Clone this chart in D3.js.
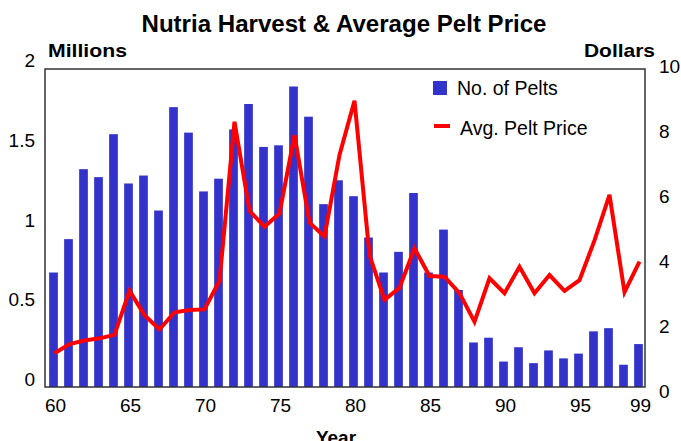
<!DOCTYPE html>
<html>
<head>
<meta charset="utf-8">
<script src="https://cdn.jsdelivr.net/npm/d3@7"></script>
<style>
  body { margin: 0; background: #fff; }
  svg { font-family: "Liberation Sans", Arial, sans-serif; }
</style>
</head>
<body>
<div id="chart"></div>
<script>
// data
var years = d3.range(1960, 2000);
var pelts = [0.72, 0.93, 1.37, 1.32, 1.59, 1.28, 1.33, 1.11, 1.76, 1.60,
             1.23, 1.31, 1.62, 1.78, 1.51, 1.52, 1.89, 1.70, 1.15, 1.30,
             1.20, 0.94, 0.72, 0.85, 1.22, 0.72, 0.99, 0.61, 0.28, 0.31,
             0.16, 0.25, 0.15, 0.23, 0.18, 0.21, 0.35, 0.37, 0.14, 0.27];
var price = [1.06, 1.35, 1.46, 1.53, 1.64, 3.03, 2.26, 1.81, 2.35, 2.42,
             2.44, 3.34, 8.34, 5.54, 5.04, 5.46, 7.92, 5.17, 4.73, 7.30,
             9.00, 4.15, 2.74, 3.12, 4.36, 3.49, 3.47, 2.95, 2.05, 3.42,
             2.95, 3.78, 2.95, 3.52, 3.02, 3.36, 4.61, 6.04, 2.98, 3.94];
var leftTicks = [0, 0.5, 1, 1.5, 2];
var rightTicks = [0, 2, 4, 6, 8, 10];
var xTicks = [1960, 1965, 1970, 1975, 1980, 1985, 1990, 1995, 1999];

(function() {
  var width = 681, height = 441;
  var plotL = 45, plotR = 645, plotT = 69, plotB = 387;

  var svg = d3.select("#chart").append("svg")
    .attr("width", width)
    .attr("height", height);

  var x = d3.scaleLinear().domain([1959.5, 1999.5]).range([plotL + 1, plotR + 1]);
  var yL = d3.scaleLinear().domain([0, 2]).range([plotB, plotT]);
  var yR = d3.scaleLinear().domain([0, 10]).range([plotB, plotT]);
  // tick labels sit a little off the frame in the original
  var yLlab = d3.scaleLinear().domain([0, 2]).range([386, 67]);
  var yRlab = d3.scaleLinear().domain([0, 10]).range([398, 73]);

  var barW = 8.7;

  // bars
  svg.selectAll("rect.bar")
    .data(pelts)
    .enter().append("rect")
      .attr("class", "bar")
      .attr("x", function(d, i) { return x(years[i]) - barW / 2; })
      .attr("y", function(d) { return yL(d); })
      .attr("width", barW)
      .attr("height", function(d) { return yL(0) - yL(d); })
      .attr("fill", "#3333cc");

  // price line
  var line = d3.line()
    .x(function(d, i) { return x(years[i]) + 1; })
    .y(function(d) { return yR(d); });

  svg.append("path")
    .datum(price)
    .attr("d", line)
    .attr("fill", "none")
    .attr("stroke", "#ff0000")
    .attr("stroke-width", 4)
    .attr("stroke-linejoin", "miter");

  // frame
  svg.append("rect")
    .attr("x", plotL).attr("y", plotT)
    .attr("width", plotR - plotL).attr("height", plotB - plotT)
    .attr("fill", "none")
    .attr("stroke", "#333")
    .attr("stroke-width", 1.5);

  // left tick labels
  svg.selectAll("text.yl")
    .data(leftTicks)
    .enter().append("text")
      .attr("class", "yl")
      .attr("x", 35)
      .attr("y", function(d) { return yLlab(d); })
      .attr("text-anchor", "end")
      .attr("font-size", 19)
      .text(function(d) { return d; });

  // right tick labels
  svg.selectAll("text.yr")
    .data(rightTicks)
    .enter().append("text")
      .attr("class", "yr")
      .attr("x", 659)
      .attr("y", function(d) { return yRlab(d); })
      .attr("text-anchor", "start")
      .attr("font-size", 19)
      .text(function(d) { return d; });

  // x tick labels
  svg.selectAll("text.xt")
    .data(xTicks)
    .enter().append("text")
      .attr("class", "xt")
      .attr("x", function(d) { return x(d) + 2; })
      .attr("y", 412)
      .attr("text-anchor", "middle")
      .attr("font-size", 19)
      .text(function(d) { return String(d).slice(2); });

  // titles
  svg.append("text")
    .attr("x", 344).attr("y", 31.5)
    .attr("text-anchor", "middle")
    .attr("font-size", 24).attr("font-weight", "bold")
    .attr("textLength", 405).attr("lengthAdjust", "spacingAndGlyphs")
    .text("Nutria Harvest & Average Pelt Price");

  svg.append("text")
    .attr("x", 48).attr("y", 57)
    .attr("font-size", 19).attr("font-weight", "bold")
    .attr("textLength", 79).attr("lengthAdjust", "spacingAndGlyphs")
    .text("Millions");

  svg.append("text")
    .attr("x", 655).attr("y", 57)
    .attr("text-anchor", "end")
    .attr("font-size", 19).attr("font-weight", "bold")
    .attr("textLength", 71).attr("lengthAdjust", "spacingAndGlyphs")
    .text("Dollars");

  svg.append("text")
    .attr("x", 336).attr("y", 443.5)
    .attr("text-anchor", "middle")
    .attr("font-size", 19).attr("font-weight", "bold")
    .text("Year");

  // legend
  svg.append("rect")
    .attr("x", 433).attr("y", 81)
    .attr("width", 14).attr("height", 14)
    .attr("fill", "#3333cc");
  svg.append("text")
    .attr("x", 457).attr("y", 94.5)
    .attr("font-size", 19.5)
    .text("No. of Pelts");

  svg.append("line")
    .attr("x1", 434).attr("x2", 450)
    .attr("y1", 126).attr("y2", 126)
    .attr("stroke", "#ff0000")
    .attr("stroke-width", 4);
  svg.append("text")
    .attr("x", 460).attr("y", 135)
    .attr("font-size", 19.5)
    .text("Avg. Pelt Price");
})();
</script>
</body>
</html>
